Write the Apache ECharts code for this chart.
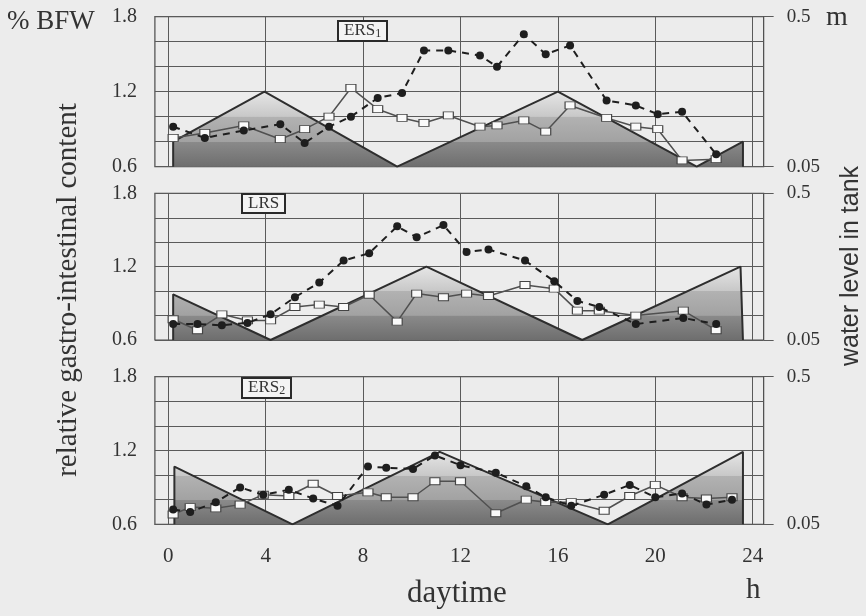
<!DOCTYPE html>
<html>
<head>
<meta charset="utf-8">
<script src="https://cdn.jsdelivr.net/npm/echarts@6/dist/echarts.min.js"></script>
<style>
  html, body { margin: 0; padding: 0; background: #ececec; }
  #chart { width: 866px; height: 616px; }
</style>
</head>
<body>
<div id="chart"></div>
<script>
// --- data ---
// hours of day for each sample, relative content (% BFW) per series
var hours1 = [0.2, 1.5, 3.1, 4.6, 5.6, 6.6, 7.5, 8.6, 9.6, 10.5, 11.5, 12.8, 13.5, 14.6, 15.5, 16.5, 18.0, 19.2, 20.1, 21.1, 22.5];
var squares1 = [0.83, 0.87, 0.93, 0.82, 0.90, 1.00, 1.23, 1.06, 0.99, 0.95, 1.01, 0.92, 0.93, 0.97, 0.88, 1.09, 0.99, 0.92, 0.90, 0.65, 0.66];
var dots1 = [0.92, 0.83, 0.89, 0.94, 0.79, 0.92, 1.00, 1.15, 1.19, 1.53, 1.53, 1.49, 1.40, 1.66, 1.50, 1.57, 1.13, 1.09, 1.02, 1.04, 0.70];

var hours2 = [0.2, 1.2, 2.2, 3.25, 4.2, 5.2, 6.2, 7.2, 8.25, 9.4, 10.2, 11.3, 12.25, 13.15, 14.65, 15.85, 16.8, 17.7, 19.2, 21.15, 22.5];
var squares2 = [0.77, 0.68, 0.81, 0.76, 0.76, 0.87, 0.89, 0.87, 0.97, 0.75, 0.98, 0.95, 0.98, 0.96, 1.05, 1.02, 0.84, 0.84, 0.80, 0.84, 0.68];
var dots2 = [0.73, 0.73, 0.72, 0.74, 0.81, 0.95, 1.07, 1.25, 1.31, 1.53, 1.44, 1.54, 1.32, 1.34, 1.25, 1.08, 0.92, 0.87, 0.73, 0.78, 0.73];

var hours3 = [0.2, 0.9, 1.95, 2.95, 3.9, 4.95, 5.95, 6.95, 8.2, 8.95, 10.05, 10.95, 12.0, 13.45, 14.7, 15.5, 16.55, 17.9, 18.95, 20.0, 21.1, 22.1, 23.15];
var squares3 = [0.68, 0.74, 0.73, 0.76, 0.84, 0.83, 0.93, 0.83, 0.86, 0.82, 0.82, 0.95, 0.95, 0.69, 0.80, 0.78, 0.78, 0.71, 0.83, 0.92, 0.82, 0.81, 0.82];
var dots3 = [0.72, 0.70, 0.78, 0.90, 0.84, 0.88, 0.81, 0.75, 1.07, 1.06, 1.05, 1.16, 1.08, 1.02, 0.91, 0.82, 0.75, 0.84, 0.92, 0.82, 0.85, 0.76, 0.80];

// water level in tank (m)
var waterHours1 = [0.2, 0.2, 3.95, 9.4, 16.0, 21.7, 23.6, 23.6];
var waterLevel1 = [0.05, 0.125, 0.275, 0.05, 0.275, 0.05, 0.125, 0.05];
var waterHours2 = [0.2, 0.2, 4.2, 10.6, 17.0, 23.5, 23.6];
var waterLevel2 = [0.05, 0.19, 0.05, 0.275, 0.05, 0.275, 0.05];
var waterHours3 = [0.25, 0.25, 5.1, 11.15, 18.05, 23.6, 23.6];
var waterLevel3 = [0.05, 0.226, 0.05, 0.271, 0.05, 0.271, 0.05];

var panelNames = ['ERS', 'LRS', 'ERS'];
var panelSubs = ['1', '', '2'];
var hourTicks = [0, 4, 8, 12, 16, 20, 24];

function pairs(xs, ys) {
  return xs.map(function (x, i) { return [x, ys[i]]; });
}

var panels = [
  { hours: hours1, sq: squares1, dt: dots1, wh: waterHours1, wl: waterLevel1, top: 16.7, height: 150 },
  { hours: hours2, sq: squares2, dt: dots2, wh: waterHours2, wl: waterLevel2, top: 193.3, height: 146.7 },
  { hours: hours3, sq: squares3, dt: dots3, wh: waterHours3, wl: waterLevel3, top: 376.7, height: 147.6 }
];

var serif = '"Liberation Serif", "DejaVu Serif", serif';
var ink = '#333';
var gridLine = '#5a5a5a';

var grid = [], xAxis = [], yAxis = [], series = [], title = [];
var boxPos = [[338, 20], [242, 193], [242, 377]];

panels.forEach(function (p, i) {
  // outer frame grid
  grid.push({ left: 154.9, right: 102.35, top: p.top, height: p.height, show: true, borderColor: '#4a4a4a', borderWidth: 1.2, backgroundColor: 'transparent' });
  // inner grid for hour lines
  grid.push({ left: 168.3, right: 113.3, top: p.top, height: p.height, show: false });

  xAxis.push({ gridIndex: 2 * i, type: 'value', min: -0.55, max: 24.45, show: false });
  xAxis.push({
    gridIndex: 2 * i + 1, type: 'value', min: 0, max: 24, interval: 4,
    axisLine: { show: false }, axisTick: { show: false },
    splitLine: { show: true, lineStyle: { color: gridLine, width: 1 } },
    axisLabel: { show: i === 2, margin: 22, fontSize: 21, color: ink, fontFamily: serif,
      customValues: hourTicks }
  });

  yAxis.push({
    gridIndex: 2 * i, type: 'value', min: 0.6, max: 1.8, interval: 0.2,
    axisLine: { show: false },
    axisTick: { show: true, length: 8, lineStyle: { color: gridLine } },
    splitLine: { show: true, lineStyle: { color: gridLine, width: 1 } },
    axisLabel: { margin: 18, fontSize: 20, color: ink, fontFamily: serif,
      customValues: [0.6, 1.2, 1.8],
      formatter: function (v) { return v.toFixed(1); } }
  });
  yAxis.push({
    gridIndex: 2 * i, type: 'value', position: 'right', min: 0.05, max: 0.5,
    axisLine: { show: false },
    axisTick: { show: true, length: 10, lineStyle: { color: gridLine }, customValues: [0.05, 0.5] },
    splitLine: { show: false },
    axisLabel: { margin: 23, fontSize: 19, color: ink, fontFamily: serif,
      customValues: [0.05, 0.5],
      formatter: function (v) { return String(v); } }
  });
  yAxis.push({ gridIndex: 2 * i + 1, type: 'value', min: 0.6, max: 1.8, show: false });

  var xi = 2 * i, yl = 3 * i, yr = 3 * i + 1;

  series.push({
    type: 'line', xAxisIndex: xi, yAxisIndex: yr, data: pairs(p.wh, p.wl),
    symbol: 'none', z: 1, silent: true,
    lineStyle: { color: '#2e2e2e', width: 2 },
    areaStyle: {
      origin: 'start', opacity: 1,
      color: new echarts.graphic.LinearGradient(0, 0, 0, 1, [
        { offset: 0, color: '#e6e6e6' },
        { offset: 0.33, color: '#c8c8c8' },
        { offset: 0.335, color: '#b2b2b2' },
        { offset: 0.665, color: '#a2a2a2' },
        { offset: 0.67, color: '#8a8a8a' },
        { offset: 1, color: '#6e6e6e' }
      ])
    }
  });
  series.push({
    type: 'line', xAxisIndex: xi, yAxisIndex: yl, data: pairs(p.hours, p.sq),
    symbol: 'rect', symbolSize: [10, 7], z: 3,
    lineStyle: { color: '#505050', width: 1.5 },
    itemStyle: { color: '#fafafa', borderColor: '#444', borderWidth: 1 }
  });
  series.push({
    type: 'line', xAxisIndex: xi, yAxisIndex: yl, data: pairs(p.hours, p.dt),
    symbol: 'circle', symbolSize: 8, z: 4,
    lineStyle: { color: '#1e1e1e', width: 2, type: [7, 6] },
    itemStyle: { color: '#1e1e1e' }
  });

  title.push({
    left: boxPos[i][0], top: boxPos[i][1],
    text: '{n|' + panelNames[i] + '}' + (panelSubs[i] ? '{s|' + panelSubs[i] + '}' : ''),
    padding: [1, 6, 1, 6], borderColor: '#2a2a2a', borderWidth: 2, backgroundColor: '#f4f4f4',
    textStyle: {
      fontWeight: 'normal',
      rich: {
        n: { fontSize: 17, lineHeight: 19, fontFamily: serif, fontWeight: 'normal', color: ink },
        s: { fontSize: 12, lineHeight: 19, fontFamily: serif, fontWeight: 'normal', color: ink, verticalAlign: 'bottom' }
      }
    }
  });
});

var option = {
  backgroundColor: '#ececec',
  animation: false,
  title: title,
  grid: grid,
  xAxis: xAxis,
  yAxis: yAxis,
  series: series,
  graphic: [
    { type: 'text', left: 7, top: 8, style: { text: '% BFW', font: '27px ' + serif, fill: ink } },
    { type: 'text', left: 826, top: 4, style: { text: 'm', font: '28px ' + serif, fill: ink } },
    { type: 'text', left: 407, top: 578, style: { text: 'daytime', font: '31px ' + serif, fill: ink } },
    { type: 'text', left: 746, top: 576, style: { text: 'h', font: '29px ' + serif, fill: ink } },
    { type: 'text', x: 68, y: 290, rotation: Math.PI / 2,
      style: { text: 'relative gastro-intestinal content', font: '29px ' + serif, fill: ink,
        textAlign: 'center', textVerticalAlign: 'middle', align: 'center', verticalAlign: 'middle' } },
    { type: 'text', x: 851, y: 266, rotation: Math.PI / 2,
      style: { text: 'water level in tank', font: '25px "Liberation Sans", Arial, sans-serif', fill: ink,
        textAlign: 'center', textVerticalAlign: 'middle', align: 'center', verticalAlign: 'middle' } }
  ]
};

var chart = echarts.init(document.getElementById('chart'));
chart.setOption(option);
</script>
</body>
</html>
